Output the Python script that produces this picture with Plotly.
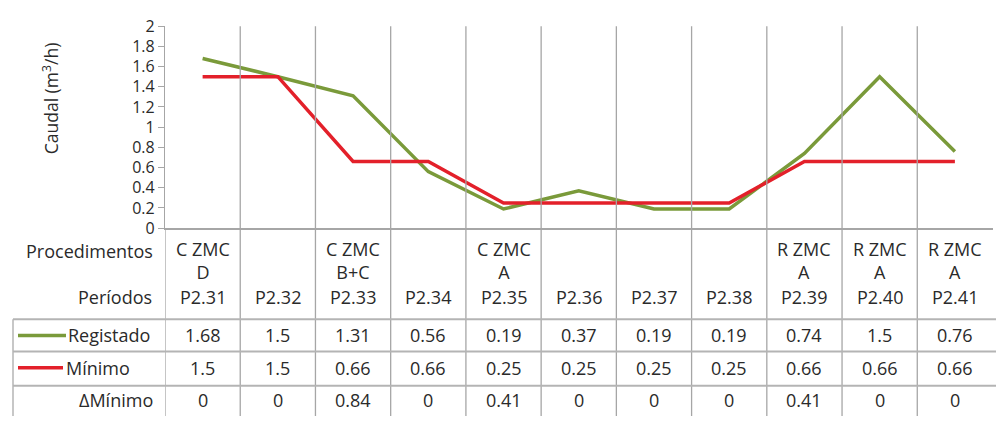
import plotly.graph_objects as go

# Periods, procedures and flow values (m3/h)
periodos = ["P2.31", "P2.32", "P2.33", "P2.34", "P2.35", "P2.36",
            "P2.37", "P2.38", "P2.39", "P2.40", "P2.41"]
procedimentos = ["C ZMC<br>D", "", "C ZMC<br>B+C", "", "C ZMC<br>A", "",
                 "", "", "R ZMC<br>A", "R ZMC<br>A", "R ZMC<br>A"]
registado = [1.68, 1.5, 1.31, 0.56, 0.19, 0.37, 0.19, 0.19, 0.74, 1.5, 0.76]
minimo = [1.5, 1.5, 0.66, 0.66, 0.25, 0.25, 0.25, 0.25, 0.66, 0.66, 0.66]
delta_minimo = [0, 0, 0.84, 0, 0.41, 0, 0, 0, 0.41, 0, 0]

y_ticks = [0, 0.2, 0.4, 0.6, 0.8, 1, 1.2, 1.4, 1.6, 1.8, 2]

W, H = 996, 427
GREEN = "#7a9a3a"
RED = "#e3202a"
GRID = "#a6a6a6"
TXT = "#2a2a2a"
FONT = "Open Sans"


def py(px):
    """Pixel row from top -> paper y."""
    return 1 - px / H


def pxx(px):
    """Pixel column from left -> paper x."""
    return px / W


plot_top, plot_bottom = 16, 229

fig = go.Figure()
fig.add_trace(go.Scatter(x=periodos, y=registado, mode="lines", name="Registado",
                         line=dict(color=GREEN, width=3.5)))
fig.add_trace(go.Scatter(x=periodos, y=minimo, mode="lines", name="Mínimo",
                         line=dict(color=RED, width=3.5)))

shapes = []
# vertical separators between categories, running through the data table
for i in range(len(periodos) - 1):
    shapes.append(dict(type="line", xref="x", yref="paper", x0=i + 0.5, x1=i + 0.5,
                       y0=0, y1=py(plot_top), line=dict(color=GRID, width=1.3)))
# left edge of the table columns below the y axis
shapes.append(dict(type="line", xref="x", yref="paper", x0=-0.5, x1=-0.5,
                   y0=0, y1=py(plot_bottom), line=dict(color=GRID, width=1.3)))
# horizontal table rules
for r in [325, 359, 395]:
    shapes.append(dict(type="line", xref="paper", yref="paper", x0=pxx(13), x1=1,
                       y0=py(r), y1=py(r), line=dict(color="#b4b4b4", width=2)))
shapes.append(dict(type="line", xref="paper", yref="paper", x0=pxx(13), x1=pxx(13),
                   y0=0, y1=py(325), line=dict(color="#b4b4b4", width=1.5)))
# legend keys in the row headers
shapes.append(dict(type="line", xref="paper", yref="paper", x0=pxx(18), x1=pxx(66),
                   y0=py(342), y1=py(342), line=dict(color=GREEN, width=3.5)))
shapes.append(dict(type="line", xref="paper", yref="paper", x0=pxx(18), x1=pxx(63),
                   y0=py(376), y1=py(376), line=dict(color=RED, width=3.5)))

ann = []
tf = dict(family=FONT, size=18, color=TXT)


def cell(x, ypix, text):
    ann.append(dict(x=x, y=py(ypix), xref="x", yref="paper", text=text,
                    showarrow=False, font=tf, xanchor="center", yanchor="middle"))


def fmt(v):
    return f"{v:g}"


for i, p in enumerate(periodos):
    if procedimentos[i]:
        cell(p, 263, procedimentos[i])
    cell(p, 302, p)
    cell(p, 342, fmt(registado[i]))
    cell(p, 376, fmt(minimo[i]))
    cell(p, 410, fmt(delta_minimo[i]))


def head(xpix, ypix, text, anchor):
    ann.append(dict(x=pxx(xpix), y=py(ypix), xref="paper", yref="paper", text=text,
                    showarrow=False, font=tf, xanchor=anchor, yanchor="middle"))


head(155, 253, "Procedimentos", "right")
head(154, 302, "Períodos", "right")
head(66, 342, "Registado", "left")
head(64, 376, "Mínimo", "left")
head(155, 410, "ΔMínimo", "right")

ann.append(dict(x=pxx(50), y=py(92), xref="paper", yref="paper",
                text="Caudal (m<sup>3</sup>/h)", textangle=-90, showarrow=False,
                font=dict(family=FONT, size=17.5, color=TXT),
                xanchor="center", yanchor="middle"))

fig.update_layout(
    width=W, height=H,
    margin=dict(l=0, r=0, t=0, b=0),
    paper_bgcolor="white", plot_bgcolor="white",
    showlegend=False,
    shapes=shapes, annotations=ann,
    xaxis=dict(type="category", range=[-0.5, len(periodos) - 0.5],
               domain=[pxx(165), pxx(992.5)], showticklabels=False, ticks="",
               showgrid=False, zeroline=False, showline=True,
               linecolor=GRID, linewidth=1.5),
    yaxis=dict(range=[0, 2], domain=[py(plot_bottom), py(plot_top)],
               tickvals=y_ticks, ticktext=[fmt(v) for v in y_ticks],
               ticks="outside", ticklen=6, tickcolor=GRID,
               showline=True, linecolor=GRID, linewidth=1.3,
               showgrid=False, zeroline=False,
               tickfont=dict(family=FONT, size=16, color=TXT)),
)

fig.write_html("out.html")
